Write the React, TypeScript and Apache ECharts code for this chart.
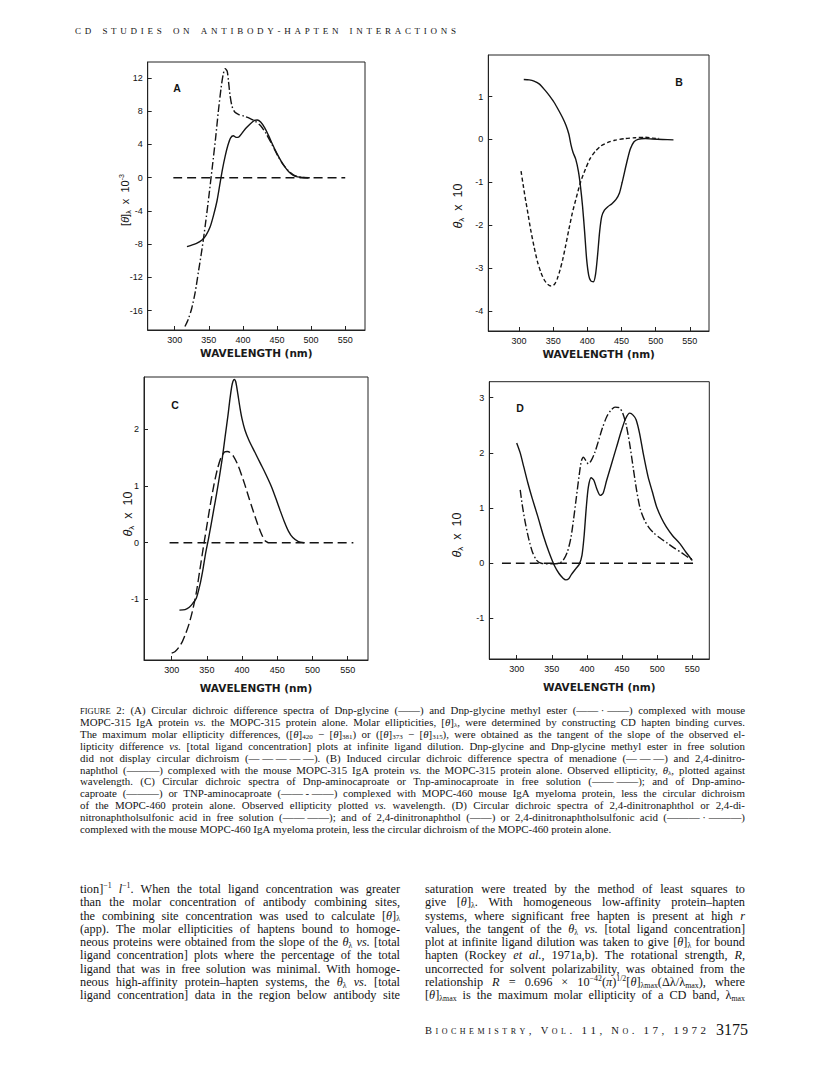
import React, { useEffect, useRef } from "react";
import * as echarts from "echarts";

// ---------------- data ----------------
const xTickValues = [300, 350, 400, 450, 500, 550];
const aYTicks = [-16, -12, -8, -4, 0, 4, 8, 12];
const bYTicks = [-4, -3, -2, -1, 0, 1];
const cYTicks = [-1, 0, 1, 2];
const dYTicks = [-1, 0, 1, 2, 3];

// Panel A: [θ]λ x 10^-3 vs wavelength (nm)
const aDnpGlycine: number[][] = [
  [318, -8.3], [325, -8.1], [332, -7.9], [340, -7.5], [346, -6.9], [352, -5.9], [357, -4.5],
  [362, -2.8], [366, -0.9], [370, 1.0], [374, 2.6], [378, 3.9], [382, 4.8], [386, 5.05],
  [390, 4.85], [394, 4.9], [399, 5.4], [405, 6.0], [411, 6.5], [417, 6.9], [421, 6.95],
  [426, 6.7], [432, 6.0], [438, 5.0], [444, 3.9], [450, 2.9], [456, 2.0], [462, 1.25],
  [468, 0.65], [474, 0.28], [480, 0.1], [488, 0.02], [496, 0],
];
const aMethylEster: number[][] = [
  [315, -17.9], [320, -17.0], [325, -15.7], [330, -13.8], [335, -11.2], [340, -8.6],
  [345, -5.6], [350, -2.3], [355, 1.2], [360, 4.8], [364, 8.0], [368, 10.8], [371, 12.4],
  [374, 13.1], [377, 12.8], [379, 11.5], [381, 10.0], [384, 8.6], [388, 7.9], [394, 7.6],
  [402, 7.4], [410, 7.15], [418, 6.8], [426, 6.25], [434, 5.3], [442, 4.1], [450, 2.8],
  [458, 1.7], [466, 0.9], [474, 0.35], [482, 0.1], [490, 0.02], [498, 0],
];
const aFreeSolution: number[][] = [[298, 0], [550, 0]];

// Panel B: θλ x 10
const bDinitronaphthol: number[][] = [
  [307, 1.4], [315, 1.39], [322, 1.36], [330, 1.29], [338, 1.15], [345, 1.01], [352, 0.85],
  [358, 0.68], [364, 0.5], [369, 0.32], [373, 0.12], [376, -0.12], [379, -0.3], [383, -0.46],
  [387, -0.75], [390, -1.1], [393, -1.56], [396, -2.15], [399, -2.8], [402, -3.17],
  [405, -3.3], [409, -3.32], [412, -3.15], [415, -2.7], [418, -2.15], [421, -1.8],
  [425, -1.65], [430, -1.57], [436, -1.5], [442, -1.4], [447, -1.25], [451, -1.0],
  [455, -0.72], [459, -0.45], [463, -0.22], [468, -0.06], [474, 0], [485, 0.02],
  [495, 0.01], [510, 0], [526, -0.01],
];
const bMenadione: number[][] = [
  [303, -0.74], [306, -1.05], [309, -1.35], [313, -1.72], [317, -2.1], [322, -2.5],
  [327, -2.85], [332, -3.1], [337, -3.28], [342, -3.38], [347, -3.42], [352, -3.38],
  [356, -3.25], [360, -3.05], [364, -2.8], [368, -2.5], [373, -2.1], [378, -1.72],
  [384, -1.35], [390, -1.0], [397, -0.7], [404, -0.45], [412, -0.27], [420, -0.15],
  [430, -0.07], [440, -0.02], [455, 0.02], [470, 0.04], [485, 0.05], [495, 0.03], [505, 0.02],
];

// Panel C: θλ x 10
const cDnpAminocaproate: number[][] = [
  [311, -1.19], [319, -1.18], [325, -1.14], [330, -1.07], [335, -0.98], [340, -0.75],
  [344, -0.5], [348, -0.2], [352, 0.05], [356, 0.32], [360, 0.6], [364, 0.88], [368, 1.18],
  [372, 1.5], [376, 1.88], [380, 2.25], [383, 2.56], [386, 2.8], [389, 2.88], [391, 2.84],
  [394, 2.62], [397, 2.38], [400, 2.18], [404, 1.99], [410, 1.8], [418, 1.6], [426, 1.4],
  [434, 1.2], [442, 0.98], [448, 0.78], [454, 0.57], [460, 0.37], [466, 0.2], [472, 0.09],
  [480, 0.02], [488, 0],
];
const cTnpAminocaproate: number[][] = [
  [300, -1.95], [305, -1.92], [310, -1.85], [315, -1.75], [320, -1.6], [325, -1.42],
  [330, -1.18], [335, -0.88], [340, -0.48], [345, -0.08], [350, 0.3], [355, 0.68],
  [360, 1.02], [365, 1.3], [370, 1.5], [375, 1.6], [379, 1.61], [383, 1.59], [388, 1.52],
  [393, 1.4], [398, 1.24], [404, 1.02], [410, 0.78], [416, 0.55], [422, 0.33], [428, 0.14],
  [433, 0.03], [437, 0],
];
const cFreeSolution: number[][] = [[297, 0], [558, 0]];

// Panel D: θλ x 10
const dDinitronaphthol: number[][] = [
  [300, 2.18], [305, 2.0], [310, 1.75], [316, 1.45], [322, 1.18], [330, 0.85], [338, 0.5],
  [346, 0.2], [354, -0.05], [360, -0.18], [366, -0.27], [370, -0.3], [374, -0.28],
  [378, -0.2], [384, -0.1], [389, -0.02], [393, 0.15], [396, 0.5], [399, 1.0], [402, 1.38],
  [406, 1.55], [410, 1.5], [414, 1.35], [419, 1.23], [423, 1.27], [428, 1.5], [435, 1.8],
  [442, 2.1], [449, 2.4], [455, 2.62], [461, 2.72], [466, 2.68], [470, 2.6], [475, 2.35],
  [480, 2.0], [487, 1.57], [493, 1.3], [499, 1.03], [506, 0.82], [513, 0.66], [522, 0.5],
  [532, 0.36], [541, 0.2], [550, 0.05],
];
const dSulfonicAcid: number[][] = [
  [305, 1.33], [308, 1.05], [312, 0.75], [317, 0.45], [322, 0.22], [328, 0.06], [335, 0],
  [350, -0.01], [360, 0], [366, 0.05], [372, 0.2], [377, 0.45], [381, 0.8], [385, 1.2],
  [389, 1.6], [392, 1.85], [395, 1.92], [399, 1.85], [402, 1.8], [406, 1.86], [411, 2.0],
  [416, 2.2], [422, 2.45], [428, 2.65], [434, 2.77], [440, 2.83], [446, 2.82], [451, 2.72],
  [456, 2.5], [461, 2.15], [466, 1.72], [471, 1.3], [476, 0.98], [482, 0.78], [488, 0.65],
  [495, 0.55], [505, 0.45], [515, 0.36], [525, 0.27], [535, 0.19], [545, 0.1], [550, 0.07],
];
const dFreeSolution: number[][] = [[279, 0], [555, 0]];

// ---------------- texts ----------------
const headerText = "CD STUDIES ON ANTIBODY-HAPTEN INTERACTIONS";
const NB = "\u00A0";
const captionLines = [
  `%{FIGURE} 2: (A) Circular dichroic difference spectra of Dnp-glycine (——) and Dnp-glycine methyl ester (——${NB}·${NB}——) complexed with mouse`,
  "MOPC-315 IgA protein *vs.* the MOPC-315 protein alone. Molar ellipticities, [*θ*]_{λ}, were determined by constructing CD hapten binding curves.",
  "The maximum molar ellipticity differences, ([*θ*]_{420} − [*θ*]_{381}) or ([*θ*]_{373} − [*θ*]_{315}), were obtained as the tangent of the slope of the observed el-",
  "lipticity difference *vs.* [total ligand concentration] plots at infinite ligand dilution. Dnp-glycine and Dnp-glycine methyl ester in free solution",
  `did not display circular dichroism (—${NB}—${NB}—${NB}—${NB}—). (B) Induced circular dichroic difference spectra of menadione (—${NB}—${NB}—) and 2,4-dinitro-`,
  "naphthol (———) complexed with the mouse MOPC-315 IgA protein *vs.* the MOPC-315 protein alone. Observed ellipticity, *θ*_{λ}, plotted against",
  `wavelength. (C) Circular dichroic spectra of Dnp-aminocaproate or Tnp-aminocaproate in free solution (——${NB}——); and of Dnp-amino-`,
  `caproate (———) or TNP-aminocaproate (——${NB}-${NB}——) complexed with MOPC-460 mouse IgA myeloma protein, less the circular dichroism`,
  "of the MOPC-460 protein alone. Observed ellipticity plotted *vs.* wavelength. (D) Circular dichroic spectra of 2,4-dinitronaphthol or 2,4-di-",
  `nitronaphtholsulfonic acid in free solution (——${NB}——); and of 2,4-dinitronaphthol (——) or 2,4-dinitronaphtholsulfonic acid (———${NB}·${NB}———)`,
  "complexed with the mouse MOPC-460 IgA myeloma protein, less the circular dichroism of the MOPC-460 protein alone.",
];
const bodyLeftLines = [
  "tion]^{−1} *l*^{−1}. When the total ligand concentration was greater",
  "than the molar concentration of antibody combining sites,",
  "the combining site concentration was used to calculate [*θ*]_{λ}",
  "(app). The molar ellipticities of haptens bound to homoge-",
  "neous proteins were obtained from the slope of the *θ*_{λ} *vs.* [total",
  "ligand concentration] plots where the percentage of the total",
  "ligand that was in free solution was minimal. With homoge-",
  "neous high-affinity protein–hapten systems, the *θ*_{λ} *vs.* [total",
  "ligand concentration] data in the region below antibody site",
];
const bodyRightLines = [
  "saturation were treated by the method of least squares to",
  "give [*θ*]_{λ}. With homogeneous low-affinity protein–hapten",
  "systems, where significant free hapten is present at high *r*",
  "values, the tangent of the *θ*_{λ} *vs.* [total ligand concentration]",
  "plot at infinite ligand dilution was taken to give [*θ*]_{λ} for bound",
  "hapten (Rockey *et al.*, 1971a,b). The rotational strength, *R*,",
  "uncorrected for solvent polarizability, was obtained from the",
  "relationship *R* = 0.696 × 10^{−42}(*π*)^{1/2}[*θ*]_{λmax}(Δλ/λ_{max}), where",
  "[*θ*]_{λmax} is the maximum molar ellipticity of a CD band, λ_{max}",
];
const footerText = "BIOCHEMISTRY, VOL. 11, NO. 17, 1972";
const pageNumber = "3175";

// ---------------- helpers ----------------
const INK = "#141414";
const SERIF = "'Liberation Serif', 'Times New Roman', serif";
const SANS = "'Liberation Sans', Arial, sans-serif";

type Seg = { t: string; k: string };

// parse a whole line into words (segments), keeping italic state across spaces
function parseLine(line: string): Seg[][] {
  const words: Seg[][] = [];
  let italic = false;
  let cur: Seg[] = [];
  let buf = "";
  const push = () => {
    if (buf) {
      cur.push({ t: buf, k: italic ? "i" : "n" });
      buf = "";
    }
  };
  for (let i = 0; i < line.length; i++) {
    const c = line[i];
    if (c === " ") {
      push();
      if (cur.length) words.push(cur);
      cur = [];
      continue;
    }
    if (c === "*") {
      push();
      italic = !italic;
      continue;
    }
    if ((c === "_" || c === "^" || c === "%") && line[i + 1] === "{") {
      push();
      const end = line.indexOf("}", i + 2);
      cur.push({ t: line.slice(i + 2, end), k: c === "_" ? "sub" : c === "^" ? "sup" : "sc" });
      i = end;
      continue;
    }
    buf += c;
  }
  push();
  if (cur.length) words.push(cur);
  return words;
}

let measureCtx: CanvasRenderingContext2D | null = null;
function ctx2d() {
  if (!measureCtx) measureCtx = document.createElement("canvas").getContext("2d");
  return measureCtx!;
}
const SUBF = 0.64;
function sizeOf(k: string, fs: number) {
  return k === "sub" || k === "sup" ? fs * SUBF : k === "sc" ? fs * 0.78 : fs;
}
function segWidth(s: Seg, fs: number, family = SERIF) {
  const c = ctx2d();
  c.font = `${s.k === "i" ? "italic " : ""}${sizeOf(s.k, fs)}px ${family}`;
  return c.measureText(s.t).width;
}
function makeRich(fs: number, family = SERIF) {
  const lh = fs * 1.2;
  return {
    n: { fontFamily: family, fontSize: fs, lineHeight: lh, verticalAlign: "middle", fill: INK },
    i: { fontFamily: family, fontSize: fs, fontStyle: "italic", lineHeight: lh, verticalAlign: "middle", fill: INK },
    sub: { fontFamily: family, fontSize: fs * SUBF, lineHeight: fs * 0.78, verticalAlign: "bottom", fill: INK },
    sup: { fontFamily: family, fontSize: fs * SUBF, lineHeight: fs * 0.78, verticalAlign: "top", fill: INK },
    sc: { fontFamily: family, fontSize: fs * 0.78, lineHeight: fs * 1.08, verticalAlign: "bottom", fill: INK },
  };
}
function richString(segs: Seg[]) {
  return segs.map((s) => `{${s.k}|${s.t}}`).join("");
}

function justifyLines(lines: string[], x0: number, width: number, y0: number, dy: number, fs: number, lastJustified: boolean) {
  const els: any[] = [];
  const rich = makeRich(fs);
  const c = ctx2d();
  c.font = `${fs}px ${SERIF}`;
  const space = c.measureText(" ").width;
  const minGap = space * 0.6;
  lines.forEach((line, li) => {
    const words = parseLine(line);
    const widths = words.map((segs) => segs.reduce((a, s) => a + segWidth(s, fs), 0));
    const total = widths.reduce((a, b) => a + b, 0);
    const isLast = li === lines.length - 1 && !lastJustified;
    const n = words.length;
    let gap = space;
    let sx = 1;
    if (!isLast && n > 1) {
      gap = (width - total) / (n - 1);
      if (gap < minGap) {
        gap = minGap;
        sx = (width - minGap * (n - 1)) / total;
      }
    }
    let x = x0;
    const y = y0 + li * dy;
    words.forEach((segs, wi) => {
      els.push({
        type: "text",
        x,
        y,
        scaleX: sx,
        silent: true,
        style: {
          text: richString(segs),
          rich,
          fill: INK,
          align: "left",
          verticalAlign: "middle",
          textAlign: "left",
          textVerticalAlign: "middle",
        },
      });
      x += widths[wi] * sx + gap;
    });
  });
  return els;
}

// letter-spaced line: each character placed separately
function spacedLine(chars: { t: string; fs: number }[], x0: number, x1: number, y: number, wordFactor: number) {
  const c = ctx2d();
  const widths = chars.map((ch) => {
    if (ch.t === " ") return 0;
    c.font = `${ch.fs}px ${SERIF}`;
    return c.measureText(ch.t).width;
  });
  const total = widths.reduce((a, b) => a + b, 0);
  let letterGaps = 0;
  let wordGaps = 0;
  for (let i = 0; i < chars.length - 1; i++) {
    if (chars[i].t === " ") continue;
    if (chars[i + 1].t === " ") wordGaps++;
    else letterGaps++;
  }
  const g = (x1 - x0 - total) / (letterGaps + wordFactor * wordGaps);
  const els: any[] = [];
  let x = x0;
  chars.forEach((ch, i) => {
    if (ch.t === " ") return;
    els.push({
      type: "text",
      x,
      y,
      silent: true,
      style: { text: ch.t, fontFamily: SERIF, fontSize: ch.fs, fill: INK, align: "left", verticalAlign: "bottom", textAlign: "left", textVerticalAlign: "bottom" },
    });
    x += widths[i];
    if (i < chars.length - 1) x += chars[i + 1].t === " " ? g * wordFactor : g;
  });
  return els;
}

// ---------------- chart ----------------
const LINE_W = 1.4;
const SOLID: any = "solid";
const DASH_LONG = [9, 5];
const DASH_SHORT = [4, 2.5];
const DASH_DOT = [8, 2.5, 1.5, 2.5];
const DASH_C = [9, 4];

function buildOption() {
  const panels = [
    { box: { left: 147.7, top: 62, width: 217.3, height: 268 }, x: [260.4, 579], y: [-18.32, 13.92], yt: aYTicks, ng: 17 },
    { box: { left: 488.3, top: 55, width: 220.7, height: 276 }, x: [255.1, 578], y: [-4.47, 1.97], yt: bYTicks, ng: 17 },
    { box: { left: 144, top: 377, width: 224, height: 283 }, x: [260.7, 578.8], y: [-2.07, 2.924], yt: cYTicks, ng: 22 },
    { box: { left: 489.3, top: 381.7, width: 220, height: 277.3 }, x: [261, 574.2], y: [-1.734, 3.29], yt: dYTicks, ng: 22 },
  ];
  const grid = panels.map((p) => ({
    ...p.box,
    show: true,
    borderColor: "#222",
    borderWidth: 1,
    backgroundColor: "transparent",
    containLabel: false,
  }));
  const xAxis = panels.map((p, i) => ({
    gridIndex: i,
    type: "value",
    min: p.x[0],
    max: p.x[1],
    axisLine: { show: true, onZero: false, lineStyle: { color: "#222", width: 1 } },
    axisTick: { show: true, inside: true, length: 4, customValues: xTickValues, lineStyle: { color: "#222", width: 1 } },
    axisLabel: { show: true, customValues: xTickValues, margin: 5, fontSize: 9, fontFamily: SANS, color: "#111" },
    splitLine: { show: false },
    name: "WAVELENGTH (nm)",
    nameLocation: "middle",
    nameGap: p.ng,
    nameTextStyle: { fontFamily: "'DejaVu Sans', sans-serif", fontWeight: "bold", fontSize: 10.5, color: "#1a1a1a" },
  }));
  const yAxis = panels.map((p, i) => ({
    gridIndex: i,
    type: "value",
    min: p.y[0],
    max: p.y[1],
    axisLine: { show: true, onZero: false, lineStyle: { color: "#222", width: 1 } },
    axisTick: { show: true, inside: true, length: 4, customValues: p.yt, lineStyle: { color: "#222", width: 1 } },
    axisLabel: { show: true, customValues: p.yt, margin: 5, fontSize: 9, fontFamily: SANS, color: "#111", formatter: (v: number) => String(v) },
    splitLine: { show: false },
  }));
  const mk = (idx: number, data: number[][], type: any, name: string) => ({
    type: "line",
    name,
    xAxisIndex: idx,
    yAxisIndex: idx,
    data,
    showSymbol: false,
    symbol: "none",
    smooth: 0.25,
    silent: true,
    lineStyle: { color: INK, width: LINE_W, type, cap: "butt" },
  });
  const series = [
    mk(0, aFreeSolution, DASH_LONG, "A free solution"),
    mk(0, aDnpGlycine, SOLID, "Dnp-glycine"),
    mk(0, aMethylEster, DASH_DOT, "Dnp-glycine methyl ester"),
    mk(1, bMenadione, DASH_SHORT, "menadione"),
    mk(1, bDinitronaphthol, SOLID, "2,4-dinitronaphthol"),
    mk(2, cFreeSolution, DASH_LONG, "C free solution"),
    mk(2, cTnpAminocaproate, DASH_C, "TNP-aminocaproate"),
    mk(2, cDnpAminocaproate, SOLID, "Dnp-aminocaproate"),
    mk(3, dFreeSolution, DASH_LONG, "D free solution"),
    mk(3, dSulfonicAcid, DASH_DOT, "2,4-dinitronaphtholsulfonic acid"),
    mk(3, dDinitronaphthol, SOLID, "2,4-dinitronaphthol D"),
  ];

  const graphic: any[] = [];
  // panel letters
  const letters = [
    ["A", 177, 88],
    ["B", 679, 82],
    ["C", 175, 405],
    ["D", 520, 408],
  ];
  letters.forEach(([t, x, y]) =>
    graphic.push({
      type: "text",
      x,
      y,
      silent: true,
      style: { text: t, fontFamily: SANS, fontSize: 10.5, fontWeight: "bold", fill: INK, align: "center", verticalAlign: "middle", textAlign: "center", textVerticalAlign: "middle" },
    })
  );
  // y-axis names (rotated)
  const sansRich11 = makeRich(11, SANS);
  const sansRich12 = makeRich(12.5, SANS);
  graphic.push({
    type: "text",
    x: 125,
    y: 200,
    rotation: Math.PI / 2,
    silent: true,
    style: { text: "{n|[}{i|θ}{n|]}{sub|λ}{n|  x  10}{sup|-3}", rich: sansRich11, fill: INK, align: "center", verticalAlign: "middle", textAlign: "center", textVerticalAlign: "middle" },
  });
  const thetaNames = [
    [458, 206],
    [128, 514],
    [457, 535],
  ];
  thetaNames.forEach(([x, y]) =>
    graphic.push({
      type: "text",
      x,
      y,
      rotation: Math.PI / 2,
      silent: true,
      style: { text: "{i|θ}{sub|λ}{n|  x  10}", rich: sansRich12, fill: INK, align: "center", verticalAlign: "middle", textAlign: "center", textVerticalAlign: "middle" },
    })
  );

  // header
  graphic.push(...spacedLine(headerText.split("").map((t) => ({ t, fs: 9 })), 75, 456, 35.5, 3.0));

  // caption
  graphic.push(...justifyLines(captionLines, 80, 665, 710, 11.9, 10.9, false));
  // body
  graphic.push(...justifyLines(bodyLeftLines, 80, 320, 889, 13.25, 12.3, true));
  graphic.push(...justifyLines(bodyRightLines, 425, 320, 889, 13.25, 12.3, true));

  // footer
  const footChars: { t: string; fs: number }[] = [];
  let prev = " ";
  footerText.split("").forEach((t) => {
    let fs = 8;
    if (/[0-9,.]/.test(t)) fs = 11;
    else if (prev === " " && /[A-Z]/.test(t)) fs = 10.5;
    footChars.push({ t, fs });
    prev = t;
  });
  graphic.push(...spacedLine(footChars, 425, 706, 1035.5, 2.6));
  graphic.push({
    type: "text",
    x: 716,
    y: 1037,
    silent: true,
    style: { text: pageNumber, fontFamily: SERIF, fontSize: 16, fill: INK, align: "left", verticalAlign: "bottom", textAlign: "left", textVerticalAlign: "bottom" },
  });

  return {
    animation: false,
    backgroundColor: "#ffffff",
    grid,
    xAxis,
    yAxis,
    series,
    graphic: { elements: graphic },
  };
}

export default function App() {
  const ref = useRef<HTMLDivElement>(null);
  useEffect(() => {
    if (!ref.current) return;
    const chart = echarts.init(ref.current, undefined, { renderer: "svg", width: 827, height: 1071 });
    chart.setOption(buildOption() as any);
    return () => chart.dispose();
  }, []);
  return (
    <div
      ref={ref}
      style={{ position: "absolute", left: 0, top: 0, width: 827, height: 1071, background: "#fff" }}
    />
  );
}
